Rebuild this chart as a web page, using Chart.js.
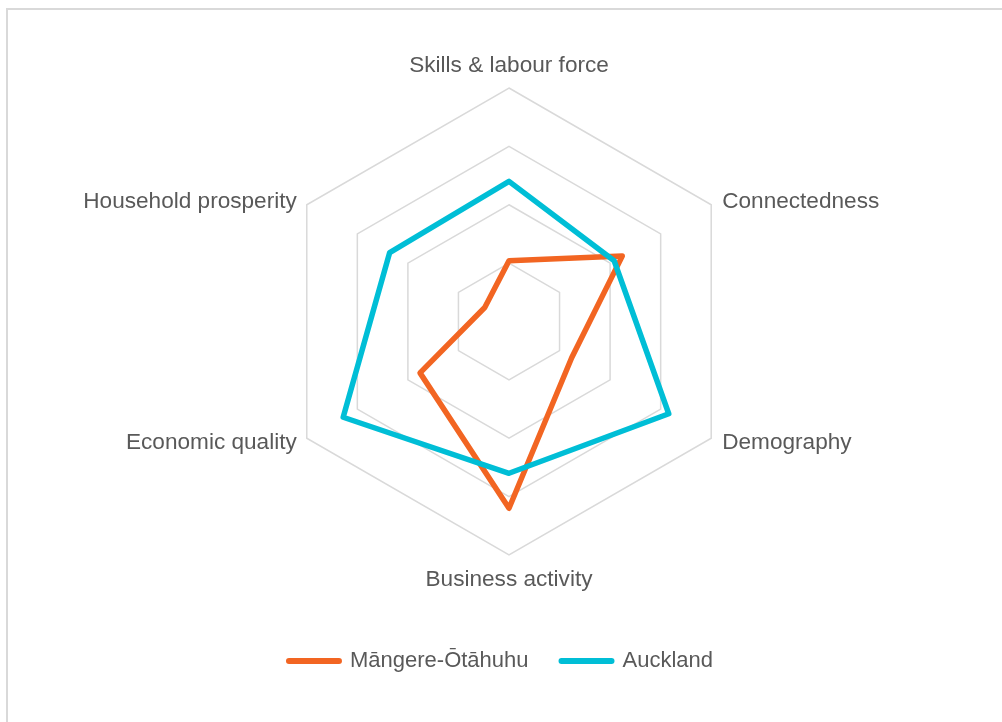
<!DOCTYPE html>
<html>
<head>
<meta charset="utf-8">
<title>Māngere-Ōtāhuhu vs Auckland</title>
<script src="https://cdn.jsdelivr.net/npm/chart.js@4.4.1/dist/chart.umd.min.js"></script>
<style>
  html, body { margin: 0; padding: 0; background: #fff; }
  #wrap { position: relative; width: 1002px; height: 722px; overflow: hidden; }
  #frame { position: absolute; left: 6px; top: 8px; width: 1100px; height: 800px;
           border: 2px solid #d9d9d9; box-sizing: border-box; }
  #chart { position: absolute; left: 0; top: 0; }
</style>
</head>
<body>
<div id="wrap">
  <div id="frame"></div>
  <canvas id="chart" width="1002" height="722"></canvas>
</div>
<script>
const axisLabels = [
    'Skills & labour force',
    'Connectedness',
    'Demography',
    'Business activity',
    'Economic quality',
    'Household prosperity',
];
const seriesNames = ['Māngere-Ōtāhuhu', 'Auckland'];
const mangereValues = [26, 56, 31, 80, 44, 12];
const aucklandValues = [60, 52, 79, 65, 82, 59];
const scaleMin = 0;
const scaleMax = 100;
const scaleStep = 25;

const textColor = '#595959';
const fontFamily = '"Liberation Sans", Arial, sans-serif';

Chart.defaults.font.family = fontFamily;
Chart.defaults.color = textColor;

// axis names drawn like Excel does: sides centred on the vertex, top/bottom centred
const axisLabelPlugin = {
    id: 'axisLabels',
    afterDraw(chart) {
        const scale = chart.scales.r;
        const ctx = chart.ctx;
        ctx.save();
        ctx.font = '22.6px ' + fontFamily;
        ctx.fillStyle = textColor;
        ctx.textBaseline = 'alphabetic';
        axisLabels.forEach((text, i) => {
            const p = scale.getPointPosition(i, scale.drawingArea);
            const dx = Math.cos(p.angle);
            const dy = Math.sin(p.angle);
            let x = p.x;
            let y;
            if (Math.abs(dx) < 0.01) {
                ctx.textAlign = 'center';
                y = dy < 0 ? p.y - 16 : p.y + 31;
            } else {
                ctx.textAlign = dx > 0 ? 'left' : 'right';
                x = dx > 0 ? p.x + 11 : p.x - 10;
                y = dy < 0 ? p.y + 3 : p.y + 11;
            }
            ctx.fillText(text, x, y);
        });
        ctx.restore();
    }
};

const ctx = document.getElementById('chart').getContext('2d');

new Chart(ctx, {
    type: 'radar',
    data: {
        labels: axisLabels,
        datasets: [
            {
                label: seriesNames[0],
                data: mangereValues,
                borderColor: '#F26522',
                backgroundColor: '#F26522',
                borderWidth: 5.5,
                borderJoinStyle: 'round',
                fill: false,
                pointRadius: 0,
                pointHoverRadius: 0,
                order: 1,
            },
            {
                label: seriesNames[1],
                data: aucklandValues,
                borderColor: '#00BED6',
                backgroundColor: '#00BED6',
                borderWidth: 5.5,
                borderJoinStyle: 'round',
                fill: false,
                pointRadius: 0,
                pointHoverRadius: 0,
                order: 0,
            }
        ]
    },
    plugins: [axisLabelPlugin],
    options: {
        responsive: false,
        devicePixelRatio: 1,
        animation: false,
        layout: {
            padding: { left: 0, right: 0, top: 0, bottom: 40 }
        },
        scales: {
            r: {
                min: scaleMin,
                max: scaleMax,
                ticks: {
                    display: false,
                    stepSize: scaleStep,
                },
                grid: {
                    color: '#d9d9d9',
                    lineWidth: 1.5,
                },
                angleLines: {
                    display: false,
                },
                pointLabels: {
                    display: false,
                },
                afterFit(scale) {
                    scale.xCenter = 509;
                    scale.yCenter = 321.5;
                    scale.drawingArea = 233.5;
                }
            }
        },
        plugins: {
            legend: {
                position: 'bottom',
                labels: {
                    usePointStyle: true,
                    pointStyleWidth: 50,
                    padding: 33,
                    color: textColor,
                    font: { size: 22 },
                    sort: (a, b) => a.datasetIndex - b.datasetIndex,
                    generateLabels(chart) {
                        return chart.data.datasets.map((ds, i) => ({
                            text: ds.label,
                            datasetIndex: i,
                            pointStyle: 'line',
                            strokeStyle: ds.borderColor,
                            fillStyle: ds.borderColor,
                            fontColor: textColor,
                            lineWidth: 6,
                            lineCap: 'round',
                            hidden: !chart.isDatasetVisible(i),
                        }));
                    }
                }
            },
            tooltip: { enabled: false }
        }
    }
});
</script>
</body>
</html>
